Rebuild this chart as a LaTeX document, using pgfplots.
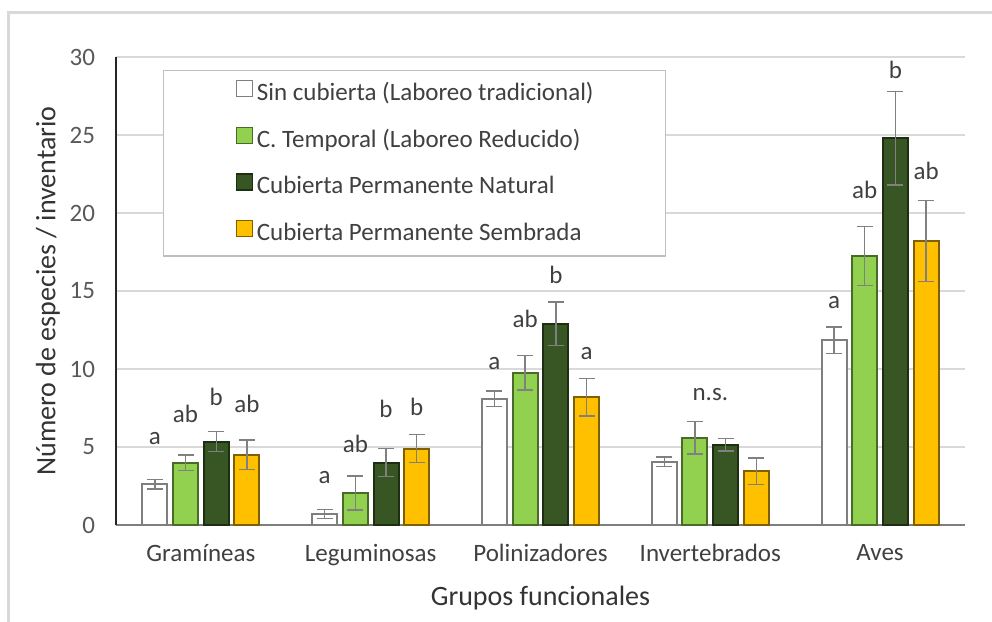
\documentclass[border=0pt]{standalone}
\usepackage{fontspec}
\setmainfont{Carlito}
\usepackage{pgfplots}
\pgfplotsset{compat=1.18}
\usepackage{pgfplotstable}

\definecolor{cgreen}{HTML}{92D050}
\definecolor{cdark}{HTML}{375623}
\definecolor{cyellow}{HTML}{FFC000}
\definecolor{wbord}{HTML}{7F7F7F}
\definecolor{gbord}{HTML}{4A6A2A}
\definecolor{dbord}{HTML}{1E2E12}
\definecolor{ybord}{HTML}{7F6000}
\definecolor{errgray}{HTML}{808080}
\definecolor{tickgray}{HTML}{595959}
\definecolor{textgray}{HTML}{404040}
\definecolor{gridgray}{HTML}{D9D9D9}

\newcommand{\chartfont}{\fontsize{12.5}{15}\selectfont}
\newcommand{\labelfont}{\fontsize{14}{17}\selectfont}

% x y err (label baseline) (label xshift in pt) label
\pgfplotstableread{
x y err ly dx lab
0 2.6 0.3 5.13 0 a
1 0.7 0.3 2.69 0 a
2 8.1 0.5 9.94 0 a
3 4.05 0.3 0 0 {}
4 11.85 0.85 13.91 0 a
}\sincub
\pgfplotstableread{
x y err ly dx lab
0 4.0 0.5 6.54 0 ab
1 2.05 1.1 4.62 0 ab
2 9.75 1.1 12.69 0 ab
3 5.6 1.05 8.01 7.7 n.s.
4 17.25 1.9 20.96 0 ab
}\temporal
\pgfplotstableread{
x y err ly dx lab
0 5.35 0.65 7.69 0 b
1 4.0 0.9 6.92 0 b
2 12.9 1.4 15.5 0 b
3 5.15 0.4 0 0 {}
4 24.8 3.0 28.65 0 b
}\natural
\pgfplotstableread{
x y err ly dx lab
0 4.5 0.95 7.18 0 ab
1 4.9 0.9 7.05 0 b
2 8.2 1.2 10.58 0 a
3 3.45 0.85 0 0 {}
4 18.2 2.6 22.12 0 ab
}\sembrada

\begin{document}
\begin{tikzpicture}
\begin{axis}[
    scale only axis,
    width=424.5pt, height=234pt,
    ybar=2.85pt, bar width=12.5pt,
    xmin=-0.5, xmax=4.5, ymin=0, ymax=30,
    xtick={0,1,2,3,4},
    xticklabels={Gramíneas, Leguminosas, Polinizadores, Invertebrados, Aves},
    ytick={0,5,...,30},
    axis lines*=left,
    x axis line style={-, draw=wbord, line width=1pt},
    y axis line style={-, draw=black!85, line width=0.75pt},
    major tick length=0pt,
    ymajorgrids,
    grid style={draw=gridgray, line width=0.7pt},
    /pgf/number format/assume math mode=true,
    tick label style={font=\chartfont},
    yticklabel style={text=tickgray, xshift=-7pt},
    xticklabel style={text=textgray, yshift=-6pt},
    label style={font=\labelfont, text=textgray!80!black},
    xlabel={Grupos funcionales},
    ylabel={Número de especies / inventario},
    xlabel style={at={(axis description cs:0.5,-0.156)}, anchor=center},
    ylabel style={at={(axis description cs:-0.0801,0.5)}, anchor=center},
    point meta=explicit symbolic,
    nodes near coords,
    visualization depends on={\thisrow{ly}-\thisrow{y} \as \dly},
    visualization depends on={\thisrow{dx} \as \ddx},
    nodes near coords style={anchor=base, yshift=\dly*7.8pt, xshift=\ddx*1pt,
        font=\chartfont, text=textgray, inner sep=0pt},
    error bars/error bar style={draw=errgray, line width=0.7pt},
    error bars/error mark options={rotate=90, mark size=4pt, draw=errgray, line width=0.7pt},
    legend style={at={(0.0554,0.9722)}, anchor=north west, draw=gray!50,
        line width=0.6pt, fill=white, font=\chartfont,
        inner xsep=36pt, inner ysep=4.75pt, row sep=10pt, column sep=2pt,
        nodes={inner sep=0pt, text height=9pt, text depth=3pt, text=textgray}},
    legend cell align=left,
    legend image code/.code={\draw[#1, line width=0.6pt] (0pt,-1pt) rectangle (8pt,7pt);},
]
\addplot[fill=white, draw=wbord, line width=1pt,
    error bars/.cd, y dir=both, y explicit]
    table[x=x, y=y, y error=err, meta=lab]{\sincub};
\addlegendentry{Sin cubierta (Laboreo tradicional)}
\addplot[fill=cgreen, draw=gbord, line width=1pt,
    error bars/.cd, y dir=both, y explicit]
    table[x=x, y=y, y error=err, meta=lab]{\temporal};
\addlegendentry{C. Temporal (Laboreo Reducido)}
\addplot[fill=cdark, draw=dbord, line width=1pt,
    error bars/.cd, y dir=both, y explicit]
    table[x=x, y=y, y error=err, meta=lab]{\natural};
\addlegendentry{Cubierta Permanente Natural}
\addplot[fill=cyellow, draw=ybord, line width=1pt,
    error bars/.cd, y dir=both, y explicit]
    table[x=x, y=y, y error=err, meta=lab]{\sembrada};
\addlegendentry{Cubierta Permanente Sembrada}
\end{axis}
\draw[gridgray, line width=1.5pt] (-53.5pt,-60pt) -- (-53.5pt,256pt) -- (450pt,256pt);
\pgfresetboundingbox
\path (-58pt,-48.5pt) rectangle (438pt,262.5pt);
\end{tikzpicture}
\end{document}
